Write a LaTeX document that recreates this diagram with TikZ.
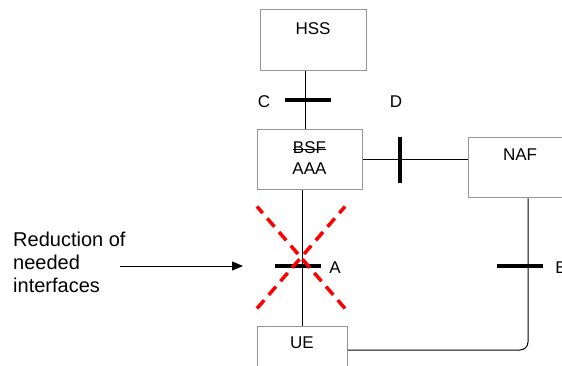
\documentclass[tikz,border=0pt]{standalone}
\usepackage{fontspec}
\setmainfont{Liberation Sans}
\usetikzlibrary{positioning,calc}
\usetikzlibrary{arrows.meta}
\definecolor{BoxGray}{RGB}{150,150,150}
\definecolor{CrossRed}{RGB}{255,0,0}
\tikzset{
  box/.style={rectangle,draw=BoxGray,line width=1pt,fill=white,inner sep=0pt},
  boxtext/.style={inner sep=0pt,align=center,font=\fontsize{17}{21}\selectfont},
  link/.style={draw=black,line width=1pt},
  bar/.style={draw=black,line width=3.5pt},
}
\tikzset{iflab/.style={inner sep=0pt,font=\fontsize{17}{20}\selectfont}, note/.style={inner sep=0pt,align=left,font=\fontsize{20}{23}\selectfont},cross/.style={draw=CrossRed,line width=3.5pt,dash pattern=on 11pt off 7pt}}

\begin{document}
\begin{tikzpicture}[x=1pt,y=-1pt]
\clip (0,0) rectangle (562,366);
\node[box,minimum width=106pt,minimum height=61pt] (hss) at (313,40.5) {};
\node[box,minimum width=105pt,minimum height=60pt] (bsf) at (309.5,160) {};
\node[box,minimum width=104pt,minimum height=60pt] (naf) at (520,168) {};
\node[box,minimum width=90pt,minimum height=48pt] (ue) at (302,350) {};
\node[boxtext,below=12.5pt of hss.north] (hsstext) {HSS};
\node[boxtext,below=12pt of bsf.north] (bsftext) {BSF};
\node[boxtext,below=9pt of bsftext] (aaatext) {AAA};
\draw[line width=1pt] ([yshift=-1.5pt]bsftext.west) -- ([yshift=-1.5pt]bsftext.east);
\node[boxtext,below=11pt of naf.north] (naftext) {NAF};
\node[boxtext,below=11pt of ue.north] (uetext) {UE};
% interfaces
\draw[link] ([xshift=-8pt]hss.south) -- ([xshift=-4.5pt]bsf.north);
\draw[link] (bsf.east) -- (bsf.east -| naf.west);
\draw[link] ([xshift=-7.5pt]bsf.south) -- (ue.north);
\draw[link,rounded corners=8pt] ([xshift=8pt]naf.south) |- (ue.east);
\coordinate (cmid) at (308,100);
\coordinate (dmid) at (400,160);
\coordinate (amid) at (298,266);
\coordinate (bmid) at (520,266);
\draw[bar] ([xshift=-23pt]cmid) -- ([xshift=23pt]cmid);
\draw[bar] ([yshift=-23pt]dmid) -- ([yshift=23pt]dmid);
\draw[bar] ([xshift=-23pt]amid) -- ([xshift=23pt]amid);
\draw[bar] ([xshift=-23pt]bmid) -- ([xshift=23pt]bmid);
\node[iflab] (clab) at (264,102) {C};
\node[iflab] (dlab) at (396,102) {D};
\node[iflab] (alab) at (335,268) {A};
\node[iflab] (blab) at (561,268) {B};
% note
\node[note,anchor=west] (reduc) at (13,262) {Reduction of\\needed\\interfaces};
\coordinate (arrstart) at (120,266);
\coordinate (arrend) at (243,266);
\draw[link,-{Triangle[length=11pt,width=9pt]}] (arrstart) -- (arrend);
\coordinate (xmid) at (301,257.5);
\draw[cross] ([shift={(-44,51)}]xmid) -- ([shift={(44,-51)}]xmid);
\draw[cross] ([shift={(44,51)}]xmid) -- ([shift={(-44,-51)}]xmid);
\end{tikzpicture}
\end{document}
